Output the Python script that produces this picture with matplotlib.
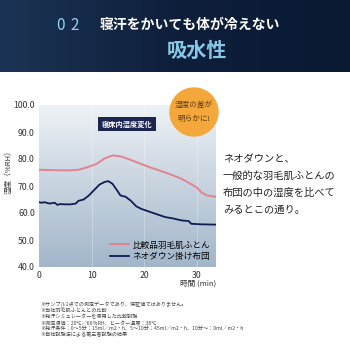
import numpy as np
import matplotlib
matplotlib.use('Agg')
import matplotlib.pyplot as plt
from matplotlib.colors import LinearSegmentedColormap
from matplotlib.patches import Circle

plt.rcParams['font.family'] = ['Noto Sans CJK JP', 'DejaVu Sans']

# data
red_x = [0, 2, 4, 6, 7.5, 9, 11, 12.5, 14, 15.5, 17, 19, 21, 23, 25, 27, 28.5, 30, 31, 32, 33.7]
red_y = [76, 75.9, 75.8, 75.8, 76, 76.8, 78.2, 80.2, 81.3, 81, 80, 78.5, 77, 75.7, 74.3, 72.8,
         71.2, 69.5, 67.5, 66.5, 66]
navy_x = [0, 0.5, 1, 2, 3, 3.5, 4, 5, 6, 7, 7.5, 8.5, 9.5, 10.5, 11.5, 12.5, 13.2, 14, 15,
          15.5, 16.5, 17.5, 18.5, 19.5, 21, 22.5, 24, 25.5, 27, 28.5, 29, 31, 33.7]
navy_y = [64, 63.8, 64, 63.5, 63.8, 63, 63.3, 63.2, 63.2, 63.5, 64.5, 65, 66.5, 68.5, 70.5,
          71.5, 71.8, 70.8, 68, 66.5, 66, 64.5, 62.5, 61.5, 60.5, 59.5, 58.5, 58, 57.3, 57,
          56, 55.8, 55.7]
y_ticks = [40, 50, 60, 70, 80, 90, 100]
x_ticks = [0, 10, 20, 30]
series_names = ['比較品羽毛肌ふとん', 'ネオダウン掛け布団']
notes = [
    '※サンプル1点での測定データであり、保証値ではありません。',
    '※当社羽毛肌ふとんとの比較',
    '※発汗シミュレーターを使用した比較試験',
    '※測定環境：20℃／60％RH、ヒーター温度：36℃',
    '※発汗条件：0〜5分：15ml／m2・h、5〜10分：45ml／m2・h、10分〜：0ml／m2・h',
    '※自社試験法による第三者試験の結果',
]

fig = plt.figure(figsize=(3.5, 3.5), dpi=100)
fig.patch.set_facecolor('white')

# header band
hdr = fig.add_axes([0, 1 - 72 / 350, 1, 72 / 350])
hcmap = LinearSegmentedColormap.from_list('h', ['#1c3454', '#0e1f3c', '#0a1932'])
hdr.imshow(np.linspace(0, 1, 256)[None, :], cmap=hcmap, aspect='auto', extent=[0, 1, 0, 1])
hdr.set_xlim(0, 1)
hdr.set_ylim(0, 1)
hdr.axis('off')
fig.text(56 / 350, 1 - 25 / 350, '0', color='#8fd0ee', fontsize=11, va='center', ha='left')
fig.text(70 / 350, 1 - 25 / 350, '2', color='#8fd0ee', fontsize=11, va='center', ha='left')
fig.text(100 / 350, 1 - 25 / 350, '寝汗をかいても体が冷えない', color='white', fontsize=10,
         fontweight='bold', va='center', ha='left')
fig.text(197 / 350, 1 - 50 / 350, '吸水性', color='#86c8e6', fontsize=14.5,
         fontweight='bold', va='center', ha='center')

# chart
ax = fig.add_axes([39 / 350, 1 - 267 / 350, 177 / 350, 162 / 350])
bcmap = LinearSegmentedColormap.from_list('b', ['#a2b6ca', '#c7d3df', '#eef2f6'])
ax.imshow(np.linspace(0, 1, 256)[:, None], cmap=bcmap, aspect='auto', origin='lower',
          extent=[0, 1, 0, 1], transform=ax.transAxes, zorder=0)
ax.set_xlim(0, 33.7)
ax.set_ylim(40, 100)
for xv in x_ticks[1:]:
    ax.axvline(xv, color='white', lw=0.6, alpha=0.35, zorder=1)
ax.plot(red_x, red_y, color='#e3838f', lw=1.4, label=series_names[0], zorder=3)
ax.plot(navy_x, navy_y, color='#101c52', lw=1.3, label=series_names[1], zorder=3)
ax.set_yticks(y_ticks)
ax.set_yticklabels([f'{v:.1f}' for v in y_ticks])
ax.set_xticks(x_ticks)
ax.tick_params(length=0, labelsize=6.3, colors='#333333', pad=3)
for s in ax.spines.values():
    s.set_visible(False)
ax.legend(loc='lower right', frameon=False, fontsize=6.2, handlelength=2.2,
          borderaxespad=0.3, labelspacing=0.3, handletextpad=0.4)

fig.text(216 / 350, 1 - 284 / 350, '時間 (min)', fontsize=5.5, color='#333333',
         ha='right', va='center')
fig.text(9 / 350, 1 - 170 / 350, '湿度（%RH）', fontsize=5.5, color='#333333',
         ha='center', va='center', rotation=90)

# title box inside chart
fig.text(127 / 350, 1 - 124 / 350, '寝床内湿度変化', fontsize=5.2, color='white',
         fontweight='bold', ha='center', va='center',
         bbox=dict(boxstyle='square,pad=0.45', fc='#1b2550', ec='none'))

# orange badge
badge = fig.add_axes([0, 0, 1, 1], zorder=5)
badge.set_xlim(0, 350)
badge.set_ylim(350, 0)
badge.axis('off')
badge.add_patch(Circle((194, 112), 24, color='#f4a83c'))
badge.text(194, 105, '湿度の差が', fontsize=5.5, color='#5b3a12', ha='center', va='center')
badge.text(194, 119, '明らかに!', fontsize=5.5, color='#5b3a12', ha='center', va='center')

# side text
side = ['ネオダウンと、', '一般的な羽毛肌ふとんの', '布団の中の湿度を比べて', 'みるとこの通り。']
for i, line in enumerate(side):
    badge.text(223, 159 + i * 17, line, fontsize=7.4, color='#222222', ha='left', va='center')

# footnotes
for i, line in enumerate(notes):
    badge.text(40, 305 + i * 6, line, fontsize=3.7, color='#444444', ha='left', va='center')

fig.savefig('out.png', dpi=100)
